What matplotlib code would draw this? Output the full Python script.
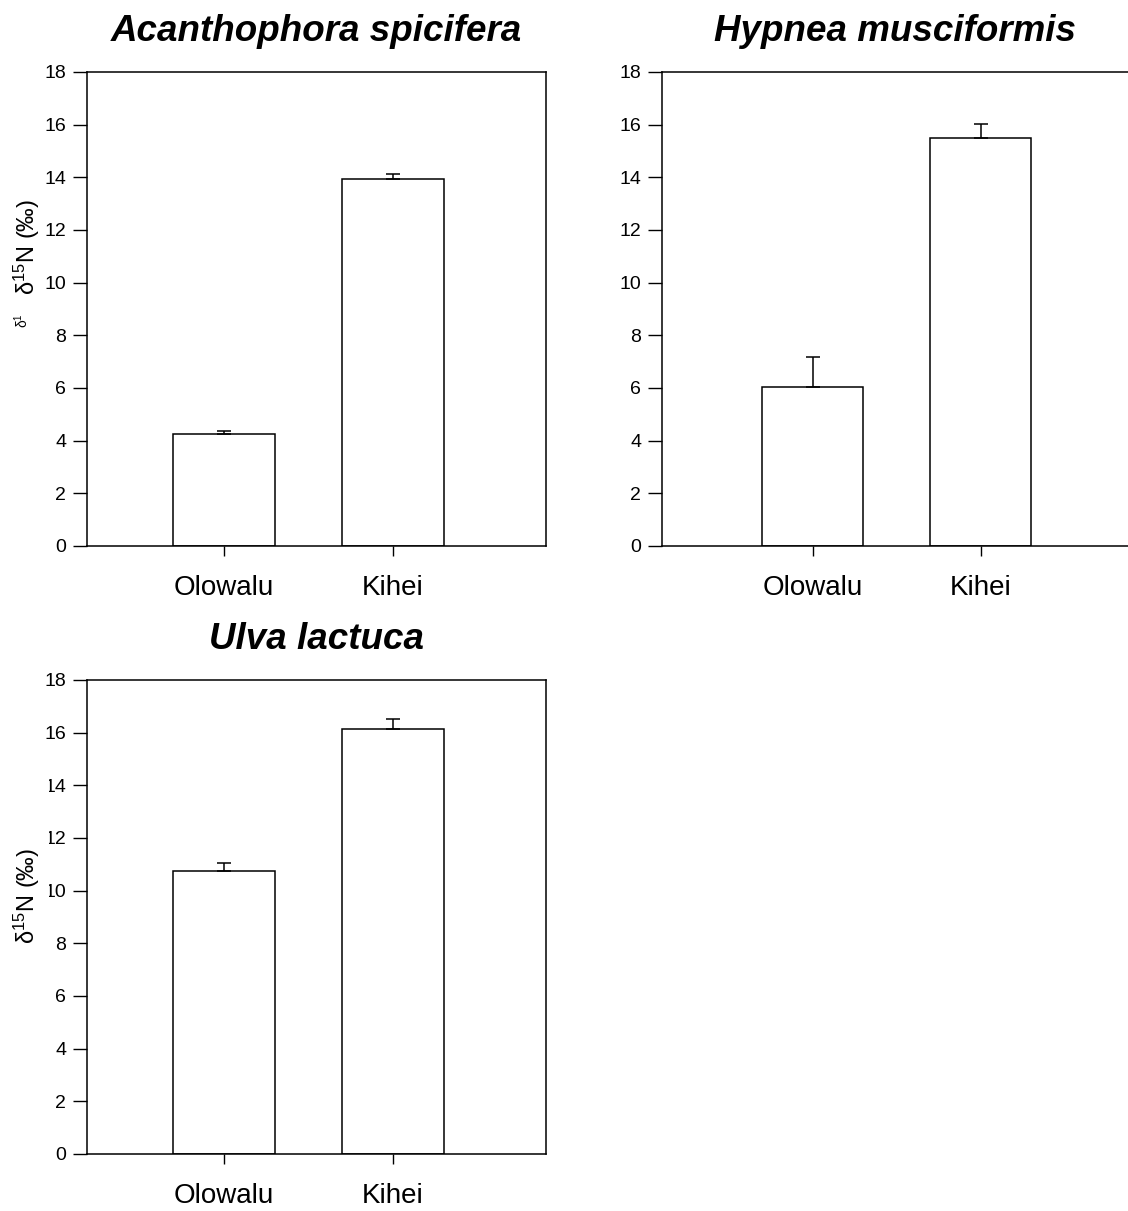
import matplotlib.pyplot as plt
from matplotlib.patches import Rectangle

plt.rcParams['font.family'] = ['Liberation Sans', 'DejaVu Sans']
plt.rcParams['mathtext.fontset'] = 'custom'
plt.rcParams['mathtext.rm'] = 'Liberation Sans'

# Sites and mean d15N values (+ SE) for each alga
sites = ["Olowalu", "Kihei"]
species = ["Acanthophora spicifera", "Hypnea musciformis", "Ulva lactuca"]
acanthophora_mean = [4.25, 13.95]
acanthophora_se = [0.12, 0.16]
hypnea_mean = [6.04, 15.5]
hypnea_se = [1.14, 0.53]
ulva_mean = [10.75, 16.14]
ulva_se = [0.30, 0.38]
y_ticks = [0, 2, 4, 6, 8, 10, 12, 14, 16, 18]

W, H = 1128, 1211
fig = plt.figure(figsize=(W / 100, H / 100), dpi=100)


def px_axes(x0, y0, x1, y1):
    return fig.add_axes([x0 / W, 1 - y1 / H, (x1 - x0) / W, (y1 - y0) / H])


ax1 = px_axes(87, 72, 546, 546)
ax2 = px_axes(662, 72, 1128, 546)
ax3 = px_axes(87, 680, 546, 1154)

panels = [
    (ax1, species[0], acanthophora_mean, acanthophora_se, (0.19, 2.905)),
    (ax2, species[1], hypnea_mean, hypnea_se, (0.104, 2.878)),
    (ax3, species[2], ulva_mean, ulva_se, (0.19, 2.905)),
]

pos = [1, 2]
for ax, name, mean, se, xl in panels:
    ax.bar(pos, mean, width=0.6, color='white', edgecolor='black', linewidth=1.1, zorder=2)
    ax.errorbar(pos, mean, yerr=[[0, 0], se], fmt='none', ecolor='black',
                elinewidth=1.1, capsize=5, capthick=1.1, zorder=3)
    ax.set_xlim(*xl)
    ax.set_ylim(0, 18)
    ax.set_yticks(y_ticks)
    ax.set_xticks(pos)
    ax.set_xticklabels(sites, fontsize=20)
    ax.tick_params(axis='y', direction='out', length=10, width=1, pad=5, labelsize=14)
    ax.tick_params(axis='x', direction='out', length=7, width=1, pad=14)
    for s in ax.spines.values():
        s.set_linewidth(1.1)
    ax.set_title(name, fontsize=26.5, fontweight='bold', fontstyle='italic', pad=22)

ax2.spines['right'].set_visible(False)

ylab = r"$\mathregular{\delta^{15}}$N (‰)"
ax1.text(-0.13, 0.631, ylab, fontsize=17, rotation=90, ha='center', va='center',
         transform=ax1.transAxes, clip_on=False)
fig.text(22 / W, 1 - 321 / H, r"$\mathregular{\delta^{1}}$", rotation=90,
         fontsize=10, ha='center', va='center')

# white patch behind the lower-left y label, drawn over the tick labels
ax3.add_patch(Rectangle((-87 / 459, (1154 - 905) / 474), 48.6 / 459, 133 / 474,
                        transform=ax3.transAxes, facecolor='white', edgecolor='none',
                        clip_on=False, zorder=2.6))
ax3.text(-0.132, 0.544, ylab, fontsize=17, rotation=90, ha='center', va='center',
         transform=ax3.transAxes, clip_on=False, zorder=3)

fig.savefig('out.png', dpi=100)
